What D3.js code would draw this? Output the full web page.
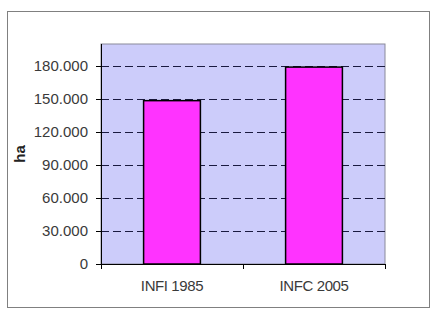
<!DOCTYPE html>
<html>
<head>
<meta charset="utf-8">
<script src="https://cdn.jsdelivr.net/npm/d3@7"></script>
<style>
  body { margin: 0; background: #fff; }
  svg { display: block; font-family: "Liberation Sans", Arial, sans-serif; }
</style>
</head>
<body>
<div id="chart"></div>
<script>
// chart data
const categories = ["INFI 1985", "INFC 2005"];
const surface = [148500, 179000];
const yTicks = [0, 30000, 60000, 90000, 120000, 150000, 180000];

const width = 431;
const height = 309;
const plot = { left: 101, right: 385, top: 44, bottom: 264 };

const svg = d3.select("#chart")
  .append("svg")
  .attr("width", width)
  .attr("height", height);

// outer chart frame
svg.append("rect")
  .attr("x", 7.5).attr("y", 11.5)
  .attr("width", 422).attr("height", 296)
  .attr("fill", "#fff")
  .attr("stroke", "#808080")
  .attr("stroke-width", 1);

const x = d3.scaleBand()
  .domain(categories)
  .range([plot.left, plot.right])
  .paddingInner(0.6)
  .paddingOuter(0.3);

const y = d3.scaleLinear()
  .domain([0, 200000])
  .range([plot.bottom, plot.top]);

// plot area
svg.append("rect")
  .attr("x", plot.left).attr("y", plot.top)
  .attr("width", plot.right - plot.left)
  .attr("height", plot.bottom - plot.top)
  .attr("fill", "#ccccfa")
  .attr("stroke", "#8a8a9a")
  .attr("stroke-width", 1);

// dashed gridlines
svg.append("g")
  .selectAll("line")
  .data(yTicks.filter(d => d > 0))
  .join("line")
  .attr("x1", plot.left).attr("x2", plot.right)
  .attr("y1", d => Math.round(y(d)) + 0.5)
  .attr("y2", d => Math.round(y(d)) + 0.5)
  .attr("stroke", "#1a1a40")
  .attr("stroke-width", 1)
  .attr("stroke-dasharray", "8,4");

// bars
svg.append("g")
  .selectAll("rect")
  .data(surface)
  .join("rect")
  .attr("x", (d, i) => x(categories[i]))
  .attr("y", d => y(d))
  .attr("width", x.bandwidth())
  .attr("height", d => y(0) - y(d))
  .attr("fill", "#ff33ff")
  .attr("stroke", "#000")
  .attr("stroke-width", 1.5);

// y axis
const fmt = d3.formatLocale({ decimal: ",", thousands: ".", grouping: [3], currency: ["", ""] }).format(",d");
const yAxis = svg.append("g")
  .attr("transform", `translate(${plot.left},0)`)
  .call(d3.axisLeft(y).tickValues(yTicks).tickFormat(fmt).tickSize(5).tickPadding(8));
yAxis.select(".domain").attr("stroke", "#000").attr("d", `M0.5,${plot.top}V${plot.bottom}`);
yAxis.selectAll(".tick line").attr("stroke", "#000");
yAxis.selectAll("text").attr("fill", "#3a3a3a").attr("font-size", 15);

// x axis
const xAxis = svg.append("g")
  .attr("transform", `translate(0,${plot.bottom})`)
  .call(d3.axisBottom(x).tickSize(0).tickPadding(16));
xAxis.select(".domain").attr("stroke", "#000").attr("d", `M${plot.left},0.5H${plot.right}`);
xAxis.selectAll("text").attr("fill", "#3a3a3a").attr("font-size", 15).attr("letter-spacing", -0.4);

// category separator ticks
svg.append("g")
  .selectAll("line")
  .data([plot.left, (plot.left + plot.right) / 2, plot.right])
  .join("line")
  .attr("x1", d => Math.round(d) + 0.5).attr("x2", d => Math.round(d) + 0.5)
  .attr("y1", plot.bottom).attr("y2", plot.bottom + 5)
  .attr("stroke", "#000");

// y axis title
svg.append("text")
  .attr("transform", `translate(25,${(plot.top + plot.bottom) / 2}) rotate(-90)`)
  .attr("text-anchor", "middle")
  .attr("font-size", 15)
  .attr("font-weight", "bold")
  .attr("fill", "#222")
  .text("ha");
</script>
</body>
</html>
